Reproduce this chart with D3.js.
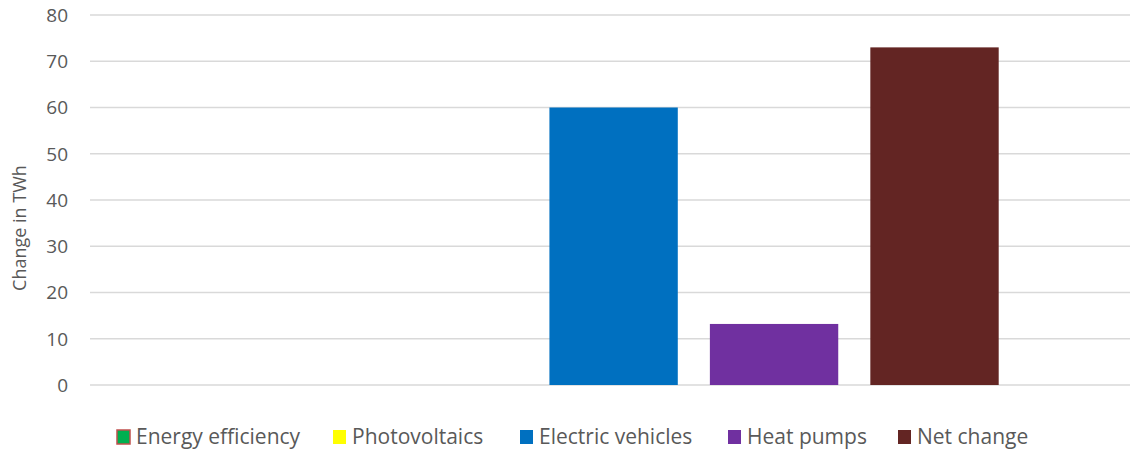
<!DOCTYPE html>
<html>
<head>
<meta charset="utf-8">
<script src="https://cdn.jsdelivr.net/npm/d3@7"></script>
<style>
  html, body { margin: 0; padding: 0; background: #fff; }
  svg { display: block; }
  text { font-family: "Open Sans", "Noto Sans", sans-serif; fill: #595959; }
</style>
</head>
<body>
<svg id="chart" width="1130" height="451"></svg>
<script>
// Change in electricity demand by driver (TWh)
const series = ["Energy efficiency", "Photovoltaics", "Electric vehicles", "Heat pumps", "Net change"];
const values = [0, 0, 60, 13.2, 73];
const colors = ["#00b050", "#ffff00", "#0070c0", "#7030a0", "#632523"];
const strokes = ["#c0504d", "none", "none", "none", "none"];
const yTicks = [0, 10, 20, 30, 40, 50, 60, 70, 80];
const yTitle = "Change in TWh";

const svg = d3.select("#chart");

const plot = { left: 90, right: 1130, top: 15, bottom: 385 };

const y = d3.scaleLinear().domain([0, 80]).range([plot.bottom, plot.top]);
const x = d3.scaleBand()
  .domain(series)
  .range([228.5, 998.7])
  .paddingInner(0.2)
  .paddingOuter(0);

// horizontal gridlines
svg.append("g")
  .selectAll("line")
  .data(yTicks)
  .join("line")
  .attr("x1", plot.left)
  .attr("x2", plot.right)
  .attr("y1", d => y(d))
  .attr("y2", d => y(d))
  .attr("stroke", "#d9d9d9")
  .attr("stroke-width", 1.5);

// y tick labels
svg.append("g")
  .selectAll("text")
  .data(yTicks)
  .join("text")
  .attr("x", 68)
  .attr("y", d => y(d))
  .attr("dy", "0.36em")
  .attr("text-anchor", "end")
  .attr("font-size", 19)
  .text(d => d);

// axis title
svg.append("text")
  .attr("transform", `translate(26,${228}) rotate(-90)`)
  .attr("text-anchor", "middle")
  .attr("font-size", 18)
  .text(yTitle);

// bars
svg.append("g")
  .selectAll("rect")
  .data(series.map((s, i) => ({ s, v: values[i], c: colors[i] })))
  .join("rect")
  .attr("x", d => x(d.s))
  .attr("width", x.bandwidth())
  .attr("y", d => y(Math.max(0, d.v)))
  .attr("height", d => Math.abs(y(d.v) - y(0)))
  .attr("fill", d => d.c);

// legend
const legendX = [117, 333, 520, 728, 898];
const lg = svg.append("g")
  .selectAll("g")
  .data(series.map((s, i) => ({ s, c: colors[i], st: strokes[i], lx: legendX[i] })))
  .join("g")
  .attr("transform", d => `translate(${d.lx},430)`);

lg.append("rect")
  .attr("width", 13)
  .attr("height", 14)
  .attr("fill", d => d.c)
  .attr("stroke", d => d.st)
  .attr("stroke-width", d => d.st === "none" ? 0 : 1.5);

lg.append("text")
  .attr("x", 19)
  .attr("y", 14)
  .attr("font-size", 21)
  .text(d => d.s);
</script>
</body>
</html>
